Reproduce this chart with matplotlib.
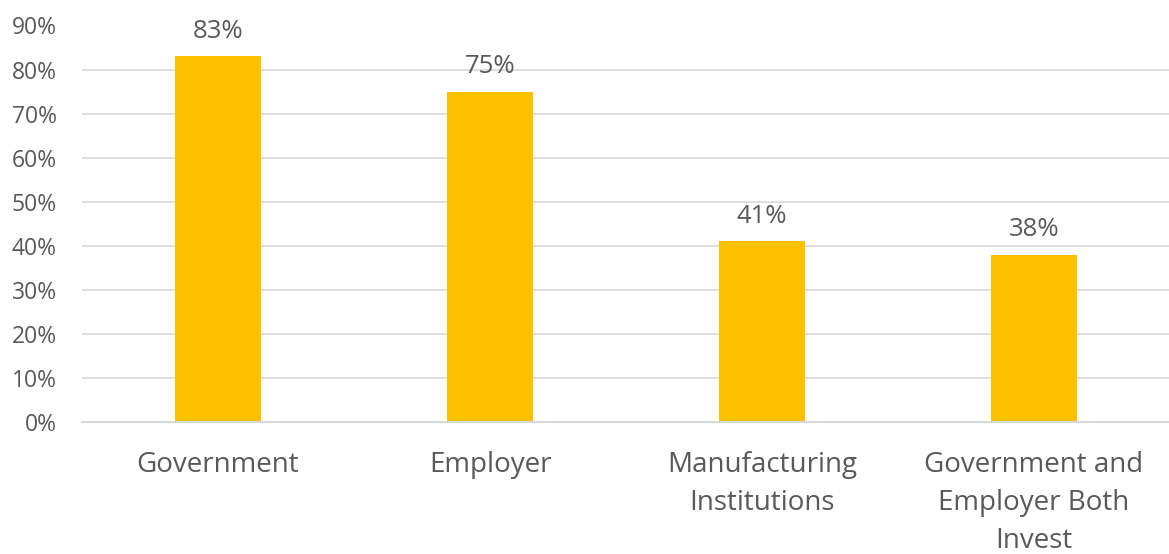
import matplotlib
matplotlib.use("Agg")
import matplotlib.pyplot as plt
import numpy as np

categories = ["Government", "Employer", "Manufacturing\nInstitutions",
              "Government and\nEmployer Both\nInvest"]
values = [0.83, 0.75, 0.41, 0.38]
yticks = [0.0, 0.1, 0.2, 0.3, 0.4, 0.5, 0.6, 0.7, 0.8, 0.9]

BAR_COLOR = "#FFC000"
TEXT_COLOR = "#595959"
GRID_COLOR = "#D9D9D9"

plt.rcParams["font.family"] = ["Open Sans", "DejaVu Sans"]

fig = plt.figure(figsize=(11.69, 5.54), dpi=100)
ax = fig.add_axes([82 / 1169, 132 / 554, 1088 / 1169, 396.5 / 554])

x = np.arange(len(categories))
ax.bar(x, values, width=0.313, color=BAR_COLOR, zorder=3)
for xi, v in zip(x, values):
    ax.annotate(f"{v * 100:.0f}%", (xi, v), xytext=(0, 9),
                textcoords="offset points", ha="center", va="bottom",
                fontsize=18.5, color=TEXT_COLOR)

ax.set_xlim(-0.5, len(categories) - 0.5)
ax.set_ylim(0, 0.9)
ax.set_yticks(yticks)
ax.set_yticklabels([f"{t * 100:.0f}%" for t in yticks])
ax.yaxis.grid(True, color=GRID_COLOR, lw=1.2, zorder=0)
ax.set_axisbelow(True)
ax.set_xticks(x)
ax.set_xticklabels(categories, linespacing=1.48)

ax.tick_params(axis="y", length=0, pad=18, labelsize=16.5,
               labelcolor=TEXT_COLOR)
ax.tick_params(axis="x", length=0, pad=21, labelsize=20,
               labelcolor=TEXT_COLOR)
for side in ["top", "right", "left"]:
    ax.spines[side].set_visible(False)
ax.spines["bottom"].set_color(GRID_COLOR)
ax.spines["bottom"].set_linewidth(1.5)
ax.spines["bottom"].set_zorder(4)

fig.savefig("out.png", dpi=100)
